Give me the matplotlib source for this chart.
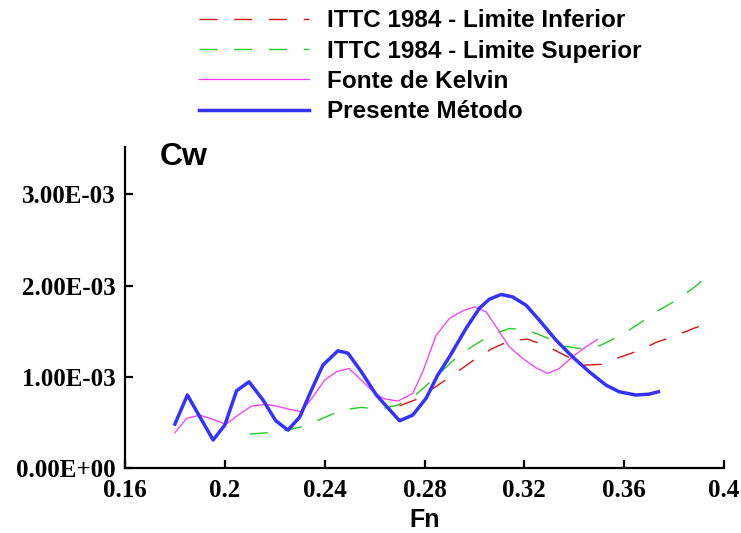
import numpy as np
import matplotlib
matplotlib.use("Agg")
import matplotlib.pyplot as plt

# =========================
# Data (Cw in units of 1e-3)
# =========================

# ITTC 1984 - lower limit
fn_inf = [0.270, 0.2767, 0.2844, 0.2913, 0.2993, 0.3067, 0.314, 0.3213, 0.3291,
          0.336, 0.344, 0.3507, 0.3587, 0.3657, 0.3733, 0.3804, 0.3884, 0.3953]
cw_inf = [0.682, 0.752, 0.890, 1.019, 1.175, 1.303, 1.394, 1.413, 1.336,
          1.238, 1.128, 1.136, 1.219, 1.285, 1.383, 1.449, 1.537, 1.596]

# ITTC 1984 - upper limit
fn_sup = [0.210, 0.2173, 0.2253, 0.232, 0.240, 0.2471, 0.2547, 0.2617, 0.2693,
          0.2767, 0.2844, 0.2913, 0.2993, 0.3063, 0.314, 0.3213, 0.3291, 0.336,
          0.344, 0.3507, 0.3587, 0.3657, 0.3733, 0.3804, 0.3884, 0.3953]
cw_sup = [0.372, 0.387, 0.416, 0.460, 0.555, 0.635, 0.665, 0.643, 0.690,
          0.808, 0.993, 1.175, 1.336, 1.453, 1.530, 1.512, 1.427, 1.336,
          1.303, 1.347, 1.457, 1.577, 1.720, 1.832, 1.986, 2.161]

# Fonte de Kelvin
fn_kelvin = [0.180, 0.1847, 0.190, 0.1953, 0.2004, 0.2053, 0.2107, 0.2167, 0.2207,
             0.226, 0.2307, 0.2353, 0.240, 0.2447, 0.2497, 0.254, 0.2587, 0.2633,
             0.2693, 0.2753, 0.2793, 0.2847, 0.290, 0.2953, 0.300, 0.3047, 0.3087,
             0.314, 0.3193, 0.3247, 0.3293, 0.334, 0.3393, 0.3447, 0.3493]
cw_kelvin = [0.387, 0.544, 0.580, 0.533, 0.479, 0.580, 0.679, 0.698, 0.679,
             0.643, 0.617, 0.781, 0.964, 1.055, 1.092, 0.982, 0.854, 0.763,
             0.734, 0.818, 1.055, 1.457, 1.640, 1.723, 1.767, 1.712, 1.548,
             1.329, 1.202, 1.099, 1.037, 1.092, 1.219, 1.329, 1.410]

# Presente Metodo
fn_pres = [0.180, 0.185, 0.1953, 0.200, 0.2047, 0.2097, 0.2153, 0.2204, 0.2253,
           0.230, 0.2347, 0.2393, 0.2453, 0.2493, 0.2547, 0.2607, 0.270, 0.2753,
           0.2807, 0.2853, 0.290, 0.2967, 0.302, 0.306, 0.3107, 0.3153, 0.3207,
           0.326, 0.3327, 0.3393, 0.346, 0.3527, 0.358, 0.3647, 0.370, 0.3737]
cw_pres = [0.482, 0.800, 0.307, 0.471, 0.847, 0.945, 0.745, 0.518, 0.416,
           0.559, 0.854, 1.128, 1.285, 1.260, 1.055, 0.800, 0.518, 0.580,
           0.767, 1.019, 1.219, 1.533, 1.752, 1.851, 1.903, 1.876, 1.785,
           1.621, 1.402, 1.219, 1.055, 0.909, 0.836, 0.800, 0.810, 0.836]

x_ticks = [0.16, 0.2, 0.24, 0.28, 0.32, 0.36, 0.4]
x_tick_labels = ["0.16", "0.2", "0.24", "0.28", "0.32", "0.36", "0.4"]
y_ticks = [0.0, 1.0e-3, 2.0e-3, 3.0e-3]
y_tick_labels = ["0.00E+00", "1.00E-03", "2.00E-03", "3.00E-03"]

# =========================
# Plot
# =========================
fig = plt.figure(figsize=(7.41, 5.33), dpi=100)
ax = fig.add_axes([125 / 741, 1 - 468 / 533, 599 / 741, 321 / 533])

dash = (13, 12)
ax.plot(np.array(fn_inf), np.array(cw_inf) * 1e-3, color="#e01010", lw=1.0,
        dashes=dash, label="ITTC 1984 - Limite Inferior")
ax.plot(np.array(fn_sup), np.array(cw_sup) * 1e-3, color="#22cc22", lw=1.0,
        dashes=dash, label="ITTC 1984 - Limite Superior")
ax.plot(np.array(fn_kelvin), np.array(cw_kelvin) * 1e-3, color="#ff33ff", lw=0.9,
        label="Fonte de Kelvin")
ax.plot(np.array(fn_pres), np.array(cw_pres) * 1e-3, color="#3333ff", lw=2.5,
        label="Presente Método")

ax.set_xlim(0.16, 0.4)
ax.set_ylim(0, 3.52e-3)
ax.set_xticks(x_ticks)
ax.set_xticklabels(x_tick_labels)
ax.set_yticks(y_ticks)
ax.set_yticklabels(y_tick_labels)

for s in ["top", "right"]:
    ax.spines[s].set_visible(False)
for s in ["left", "bottom"]:
    ax.spines[s].set_linewidth(1.6)

ax.tick_params(direction="in", length=6, width=1.6, pad=8)
ax.tick_params(axis="y", pad=7)
for lab in ax.get_xticklabels() + ax.get_yticklabels():
    lab.set_family("Liberation Serif")
    lab.set_fontweight("bold")
    lab.set_fontsize(18)

ax.set_xlabel("Fn", family="Liberation Sans", fontweight="bold", fontsize=18,
              labelpad=4)
ax.text(0.058, 1.015, "Cw", transform=ax.transAxes, family="Liberation Sans",
        fontweight="bold", fontsize=23, ha="left", va="top")

fig.legend(
    loc="upper left",
    bbox_to_anchor=(192 / 741, 1 - 2 / 533),
    frameon=False,
    prop={"family": "Liberation Sans", "weight": "bold", "size": 17.5},
    handlelength=4.5,
    handletextpad=0.74,
    labelspacing=0.3,
    borderaxespad=0.2,
    borderpad=0.1,
)

fig.savefig("out.png", dpi=100)
